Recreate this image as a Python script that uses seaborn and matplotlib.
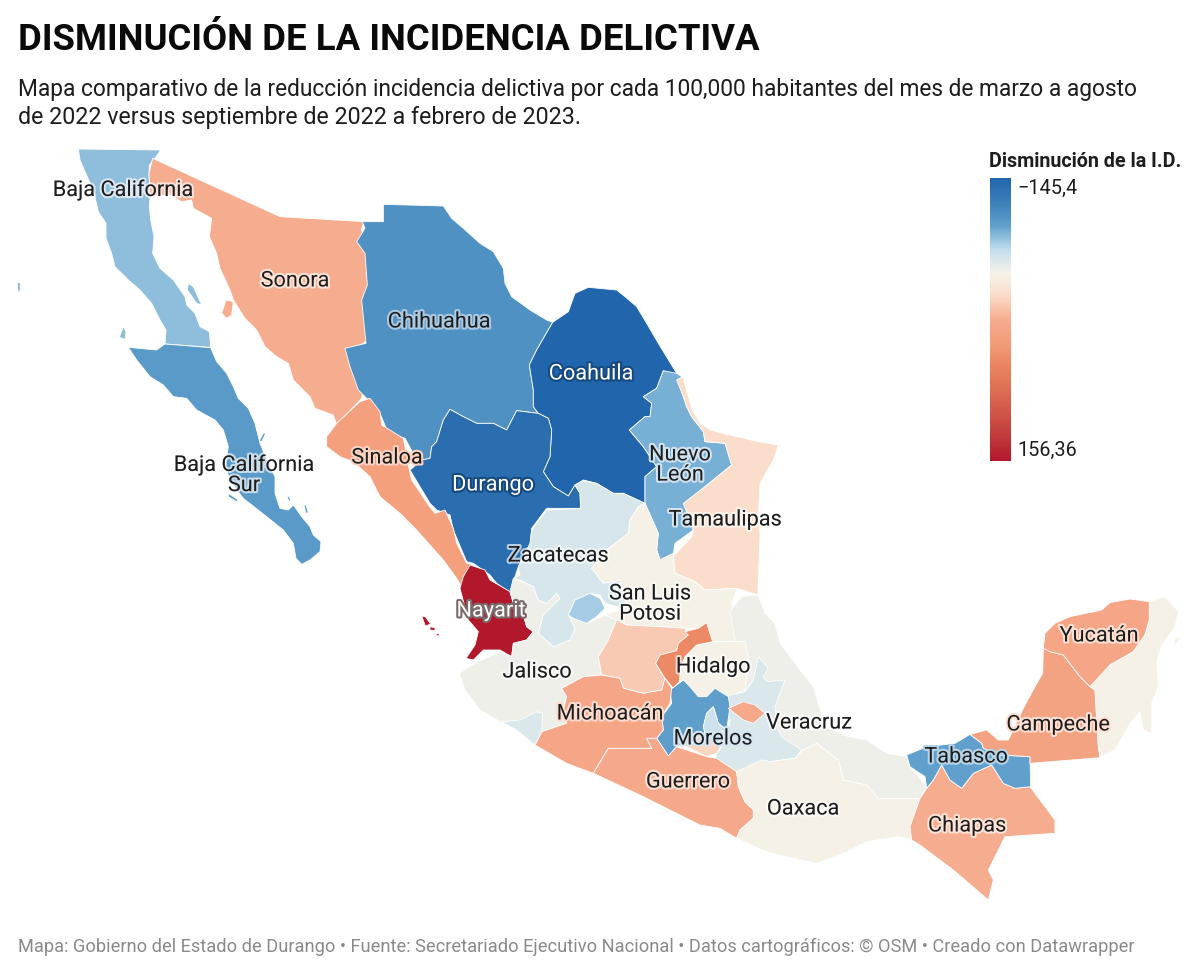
import matplotlib
matplotlib.use("Agg")
import matplotlib.pyplot as plt
import matplotlib.patheffects as pe
from matplotlib.patches import Polygon
import numpy as np
import seaborn as sns

sns.set_theme(style="white")
plt.rcParams['font.family'] = ['Roboto', 'DejaVu Sans']

TITLE = "DISMINUCIÓN DE LA INCIDENCIA DELICTIVA"
SUBTITLE = ["Mapa comparativo de la reducción incidencia delictiva por cada 100,000 habitantes del mes de marzo a agosto",
            "de 2022 versus septiembre de 2022 a febrero de 2023."]
FOOTER = "Mapa: Gobierno del Estado de Durango • Fuente: Secretariado Ejecutivo Nacional • Datos cartográficos: © OSM • Creado con Datawrapper"
LEGEND_TITLE = "Disminución de la I.D."
VMIN, VMAX = -145.4, 156.36
VMIN_LABEL, VMAX_LABEL = "−145,4", "156,36"

STATES = ["Baja California", "Baja California Sur", "Sonora", "Chihuahua", "Coahuila", "Durango", "Sinaloa",
          "Nayarit", "Nuevo León", "Tamaulipas", "Jalisco", "Zacatecas", "San Luis Potosí", "Aguascalientes",
          "Guanajuato", "Veracruz", "Hidalgo", "Querétaro", "Puebla", "México", "Ciudad de México", "Morelos",
          "Tlaxcala", "Michoacán", "Colima", "Guerrero", "Oaxaca", "Chiapas", "Tabasco", "Campeche", "Yucatán",
          "Quintana Roo"]
VALUES = [-82.6, -98.6, 5.7, -106, -145.4, -136, 26.6,
          156.36, -88, -22, -48, -59, -44, -76,
          -10, -48, -44, 50, -57, -95, -63, -16,
          11, 14, -57, 11, -44, 5.7, -94, 20, 14,
          -44]

LEGEND_COLORS = ["#2166ac", "#3b7fb9", "#5f9fcb", "#c0dcee", "#f5f2e8", "#fbdcc8", "#f6ac8e",
                 "#f39c7a", "#e9845f", "#dd6e53", "#d05548", "#c1393a", "#b2182b"]


def zoom(ox, oy):
    return lambda pts: [(ox + x / 3, oy + y / 3) for x, y in pts]


z1, z2, z3, z4, z6, z7, z10 = (zoom(0, 140), zoom(330, 200), zoom(420, 500), zoom(720, 580),
                               zoom(160, 420), zoom(320, 390), zoom(1030, 590))

OUTLINES = {
    "Baja California": [z1([(235,27),(482,30),(465,55),(448,75),(447,110),(452,150),(448,200),(452,240),(462,290),(458,340),(480,385),(520,420),(555,470),(560,495),(585,520),(600,560),(628,575),(632,622),(495,612),(498,570),(480,540),(455,490),(420,450),(385,420),(345,380),(335,340),(318,295),(318,250),(295,215),(280,150),(255,95),(240,60)]),
                        z1([(565,430),(580,440),(605,495),(590,490),(562,450)]),
                        z1([(52,425),(62,430),(60,458),(52,450)]),
                        z1([(370,560),(378,575),(375,598),(358,592)])],
    "Baja California Sur": [z1([(385,622),(470,630),(495,612),(632,623),(650,665),(680,700),(700,740),(715,775),(745,805),(765,850)]) + z6([(300,70),(325,130),(345,170),(345,220),(360,265),(385,270),(400,255),(425,290),(450,320),(460,345),(483,365),(480,395),(450,420),(425,433),(408,415),(400,370),(370,330),(320,290),(250,235),(215,190),(195,140),(205,80),(190,30),(165,0)]) + z1([(590,810),(560,775),(520,770),(490,735),(450,710),(410,660)]),
                            z6([(310,40),(318,38),(305,65),(298,62)]),
                            z6([(432,255),(438,255),(445,278),(438,280)]),
                            z6([(385,225),(392,240),(390,245),(382,235)]),
                            z6([(205,220),(235,240),(230,245),(205,230)])],
    "Sonora": [z1([(458,55),(840,230),(1093,245),(1083,270),(1093,280),(1076,310),(1103,345),(1111,375),(1098,400),(1106,435),(1093,470),(1103,600),(1043,640),(1060,670),(1090,740),(1085,775),(1010,855),(1000,825),(945,805),(930,770),(880,720),(865,670),(830,650),(795,620),(770,570),(735,535),(700,480),(690,450),(660,385),(650,340),(628,290),(635,235),(580,205),(575,180),(545,185),(510,165),(450,170),(447,100)]),
               z1([(678,480),(700,485),(695,525),(680,535),(665,520)])],
    "Chihuahua": [z2([(97,65),(160,65),(160,13),(340,18),(365,55),(400,85),(450,130),(490,155),(520,205),(525,250),(545,290),(600,330),(650,360),(668,367),(620,450),(598,495),(610,570),(610,620),(625,640),(560,632),(530,690),(490,670),(440,670),(400,650),(360,628),(340,660),(320,725),(305,740),(300,775),(275,780),(255,770),(225,715),(175,700),(150,640),(120,600),(110,595),(85,570),(60,500),(45,445),(108,430),(95,300),(112,255),(105,160),(80,125),(105,85)])],
    "Coahuila": [z2([(668,367),(715,335),(735,280),(775,262),(860,270),(885,290),(920,320),(950,370),(985,430),(1040,520),(1030,530),(1000,512),(980,565),(940,590),(965,610),(960,650),(945,650),(898,690),(940,740),(980,800),(945,830),(945,910),(880,880),(850,880),(800,850),(760,840),(735,855),(715,888),(670,860),(640,815),(660,770),(665,690),(655,655),(625,640),(610,620),(610,570),(598,495),(620,450)])],
    "Durango": [z2([(360,628),(400,650),(440,670),(490,670),(530,690),(560,632),(625,640),(655,655),(665,690),(660,770),(640,815),(670,860),(715,888),(735,855),(750,880),(752,925),(650,925),(605,985),(600,1040),(565,1100),(555,1130),(545,1180),(500,1150),(480,1125),(430,1090),(410,1085),(370,990),(360,945),(320,930),(300,910),(240,810),(275,780),(300,775),(305,740),(320,725),(340,660)])],
    "Sinaloa": [z7([(150,25),(180,65),(185,105),(250,145),(265,225),(275,270),(325,345),(345,370),(375,360),(400,415),(410,460),(440,520),(455,520),(445,540),(425,590),(410,565),(370,510),(290,420),(240,370),(180,320),(150,260),(100,215),(60,200),(20,170),(20,140),(50,100),(120,35)])],
    "Nayarit": [z3([(150,195),(195,210),(210,240),(270,275),(280,310),(310,345),(320,380),(340,395),(320,420),(280,430),(275,470),(240,450),(190,450),(160,480),(138,475),(165,435),(175,395),(145,360),(120,265),(130,230)]),
                z3([(5,348),(16,350),(32,372),(16,378)]),
                z3([(30,380),(46,384),(44,392),(30,390)]),
                z3([(50,400),(58,402),(57,408),(50,407)])],
    "Nuevo León": [z2([(1000,512),(1040,520),(1055,530),(1050,545),(1060,590),(1070,620),(1085,650),(1120,695),(1125,725),(1185,730),(1205,795),(1125,860),(1065,910),(1090,990),(1035,1030),(1030,1060),(990,1080),(980,1050),(985,1000),(945,910),(945,830),(980,800),(940,740),(898,690),(945,650),(960,650),(965,610),(940,590),(980,565)])],
    "Tamaulipas": [z2([(1040,540),(1058,530),(1075,590),(1085,625),(1110,670),(1140,690),(1200,705),(1285,725),(1345,735),(1330,780),(1290,850),(1285,950),(1290,1000),(1284,1185),(1221,1165),(1125,1170),(1095,1145),(1035,1120),(1030,1070),(1085,1010),(1090,990),(1060,910),(1125,860),(1205,795),(1185,730),(1125,725),(1120,695),(1085,650),(1070,620),(1060,590)])],
    "Jalisco": [z3([(270,275),(280,235),(340,260),(355,300),(380,310),(410,280),(420,295),(370,345),(355,400),(400,440),(450,420),(465,385),(445,345),(460,355),(500,370),(555,345),(590,360),(565,420),(535,470),(545,525),(490,530),(425,565),(440,590),(430,630),(440,670),(365,695),(345,735),(290,690),(240,665),(180,630),(135,570),(118,520),(165,490),(240,455),(275,470),(280,430),(320,420),(340,395),(320,380),(310,345),(280,310)])],
    "Zacatecas": [z2([(752,925),(750,880),(735,855),(760,842),(800,850),(850,880),(880,880),(945,910),(925,920),(900,960),(895,1000),(830,1050),(785,1105)]) + z3([(550,250),(600,240),(620,310),(610,325),(555,310),(540,285),(510,280),(465,300),(445,345),(465,385),(450,420),(400,440),(355,400),(370,345),(420,295),(410,280),(380,310),(355,300),(340,260),(300,240),(280,235),(300,225),(295,200),(330,130),(335,90),(380,30)])],
    "San Luis Potosí": [z2([(785,1105),(830,1050),(895,1000),(900,960),(925,920),(945,910),(985,1000),(980,1050),(990,1080),(1030,1060),(1035,1120),(1095,1145),(1125,1170),(1221,1165)]) + z3([(935,310),(945,360),(975,425),(878,425),(860,368),(835,385),(795,385),(720,380),(620,375),(590,360),(555,345),(610,325),(620,310),(600,240),(550,250)])],
    "Aguascalientes": [z3([(445,345),(465,300),(510,280),(540,295),(555,325),(530,350),(500,370),(460,355)])],
    "Guanajuato": [z3([(590,360),(620,375),(720,380),(795,385),(805,405),(775,435),(770,455),(720,465),(707,490),(735,535),(725,570),(670,580),(610,565),(600,535),(545,525),(535,470),(565,420)])],
    "Querétaro": [z3([(795,395),(835,385),(860,368),(868,395),(878,425),(830,435),(795,470),(782,500),(778,545),(760,565),(735,535),(707,490),(720,465),(770,452),(775,430),(805,405)])],
    "Hidalgo": [z3([(782,500),(795,470),(830,435),(878,425),(975,425),(985,475),(975,570),(925,590),(885,565),(860,590),(835,590),(810,560),(790,540),(778,545)])],
    "Veracruz": [z4([(114,45),(135,100),(165,130),(180,190),(240,270),(280,320),(300,385),(315,440),(385,470),(440,480),(500,520),(560,530),(570,560),(620,620),(600,655),(475,655),(440,615),(370,600),(355,540),(290,490),(250,510),(225,535),(150,545),(125,540),(125,400),(60,330),(60,230),(45,180),(30,95),(65,50)])],
    "Puebla": [z4([(115,230),(145,265),(130,290),(140,305),(195,300),(165,380),(170,440),(185,470),(245,510),(225,535),(150,545),(125,540),(130,565),(60,580),(0,555),(-15,540),(-10,520),(20,480),(30,420),(-20,380),(30,345),(75,335),(100,300)])],
    "México": [z3([(790,540),(810,560),(835,590),(860,590),(885,565),(925,590),(930,620),(920,690),(895,670),(880,620),(860,640),(850,680),(855,700),(770,740),(745,768),(710,715),(730,690),(725,650),(755,610),(750,570)])],
    "Ciudad de México": [z3([(880,620),(895,670),(920,690),(880,700),(855,700),(850,680),(860,640)])],
    "Morelos": [z3([(855,700),(880,700),(925,700),(890,760),(860,770),(800,740),(770,740)])],
    "Tlaxcala": [z4([(25,385),(70,365),(105,375),(135,400),(100,430),(70,420)])],
    "Michoacán": [z3([(490,530),(545,525),(600,535),(610,565),(670,580),(725,570),(735,535),(755,565),(750,610),(725,650),(730,690),(710,715),(680,715),(695,745),(565,745),(550,770),(520,820),(440,790),(345,735),(365,695),(440,670),(430,630),(440,590),(425,565)])],
    "Colima": [z3([(245,665),(300,660),(350,635),(368,640),(365,695),(345,735),(290,690)])],
    "Guerrero": [z3([(520,820),(550,770),(565,745),(695,745),(680,715),(710,715),(745,768),(770,740),(860,770),(890,775),(950,815)]) + z4([(55,620),(75,665),(100,690),(100,715),(60,750),(50,775),(0,745),(-60,735),(-240,645)])],
    "Oaxaca": [z4([(50,575),(125,540),(150,545),(225,535),(250,510),(290,490),(355,540),(370,600),(440,615),(475,655),(600,655),(570,740),(580,780),(535,770),(440,785),(370,820),(290,850),(220,835),(140,815),(50,775),(60,750),(100,715),(100,690),(75,665),(55,620)])],
    "Chiapas": [z4([(600,655),(620,625),(640,600),(665,555),(690,600),(725,625),(760,580),(815,555),(850,610),(885,625),(930,620),(975,680),(1005,720),(1005,760),(855,770),(805,870),(820,900),(805,960),(700,870),(600,795),(575,780),(570,740)])],
    "Tabasco": [z4([(560,525),(620,500),(705,490),(750,463),(785,490),(790,505),(840,525),(930,530),(932,620),(885,625),(850,610),(815,555),(760,580),(725,625),(690,600),(665,555),(640,600),(620,625),(615,590),(570,560)])],
    "Campeche": [z4([(750,463),(800,450),(835,480),(865,480),(910,385),(945,320),(968,280),(970,200)]) + z10([(60,185),(100,195),(150,260),(180,290),(195,300),(205,470),(210,503)]) + z4([(930,550),(930,530),(840,525),(790,505),(785,490)])],
    "Yucatán": [z10([(40,175),(45,130),(75,100),(120,80),(215,60),(240,38),(300,27),(358,35),(358,90),(345,135),(310,185),(240,225),(195,280),(180,290),(150,260),(100,195),(60,185)])],
    "Quintana Roo": [z10([(180,290),(240,225),(310,185),(345,135),(358,90),(358,35),(405,20),(445,65),(435,110),(395,165),(380,215),(385,290),(365,340),(365,430),(340,420),(330,365),(300,400),(255,480),(210,500),(205,470),(195,300)]),
                     z10([(430,170),(455,140),(435,145)])],
}

# label, x, y, text colour, halo colour
LABELS = [("Baja California", 123, 190, "#1d1d1d", "#ffffffaa"),
          ("Sonora", 295, 281, "#1d1d1d", "#fde3d6"),
          ("Chihuahua", 439, 322, "#1d1d1d", "#a9c9e2"),
          ("Coahuila", 591, 374, "#ffffff", "#15497f"),
          ("Baja California\nSur", 244, 475, "#1d1d1d", "#ffffffaa"),
          ("Sinaloa", 387, 458, "#1d1d1d", "#fbd3c2"),
          ("Durango", 493, 485, "#ffffff", "#15497f"),
          ("Nuevo\nLeón", 680, 465, "#1d1d1d", "#cfe2f0"),
          ("Tamaulipas", 725, 520, "#1d1d1d", "#ffffffaa"),
          ("Zacatecas", 558, 556, "#1d1d1d", "#ffffffaa"),
          ("San Luis\nPotosi", 650, 604, "#1d1d1d", "#ffffffaa"),
          ("Nayarit", 491, 611, "#ffffff", "#7a6a6a"),
          ("Jalisco", 537, 672, "#1d1d1d", "#ffffffaa"),
          ("Hidalgo", 713, 667, "#1d1d1d", "#ffffffaa"),
          ("Michoacán", 610, 714, "#1d1d1d", "#fcdccf"),
          ("Veracruz", 809, 723, "#1d1d1d", "#ffffffaa"),
          ("Morelos", 713, 739, "#1d1d1d", "#d5e5f1"),
          ("Campeche", 1058, 725, "#1d1d1d", "#fde0d3"),
          ("Yucatán", 1099, 636, "#1d1d1d", "#fde0d3"),
          ("Tabasco", 966, 757, "#1d1d1d", "#b7d3e8"),
          ("Guerrero", 688, 782, "#1d1d1d", "#fde0d3"),
          ("Oaxaca", 803, 809, "#1d1d1d", "#ffffffaa"),
          ("Chiapas", 967, 826, "#1d1d1d", "#fde3d6")]

cmap = sns.blend_palette(LEGEND_COLORS, as_cmap=True)
norm = plt.Normalize(VMIN, VMAX)


def px(size):
    return size * 72 / 100


fig = plt.figure(figsize=(12, 9.73), dpi=100, facecolor="white")
ax = fig.add_axes([0, 0, 1, 1])
ax.set_xlim(0, 1200)
ax.set_ylim(973, 0)
ax.axis("off")

for state, value in zip(STATES, VALUES):
    for ring in OUTLINES[state]:
        ax.add_patch(Polygon(ring, closed=True, facecolor=cmap(norm(value)), edgecolor="white",
                             linewidth=0.6, joinstyle="round"))

for text, x, y, color, halo in LABELS:
    ax.text(x, y, text, ha="center", va="center", color=color, fontsize=px(21.7), linespacing=0.95,
            path_effects=[pe.withStroke(linewidth=3, foreground=halo)], zorder=5)

ax.text(18, 50, TITLE, fontsize=px(36.5), fontweight="bold", color="#0a0a0a", va="baseline")
ax.text(18, 96, SUBTITLE[0], fontsize=px(22.7), color="#1d1d1d", va="baseline")
ax.text(18, 124, SUBTITLE[1], fontsize=px(23.2), color="#1d1d1d", va="baseline")
ax.text(18, 952, FOOTER, fontsize=px(18.25), color="#8a8a8a", va="baseline")
ax.text(989, 167, LEGEND_TITLE, fontsize=px(19.8), fontweight="bold", color="#1d1d1d", va="baseline")
ax.text(1017, 194, VMIN_LABEL, fontsize=px(19.9), color="#1d1d1d", va="baseline")
ax.text(1017, 456, VMAX_LABEL, fontsize=px(19.9), color="#1d1d1d", va="baseline")

cax = fig.add_axes([990 / 1200, 1 - 461 / 973, 21 / 1200, 283 / 973])
gradient = np.linspace(VMIN, VMAX, 256).reshape(-1, 1)
sns.heatmap(gradient, ax=cax, cmap=cmap, vmin=VMIN, vmax=VMAX, cbar=False, xticklabels=False, yticklabels=False)

fig.savefig("out.png", dpi=100, facecolor="white")
